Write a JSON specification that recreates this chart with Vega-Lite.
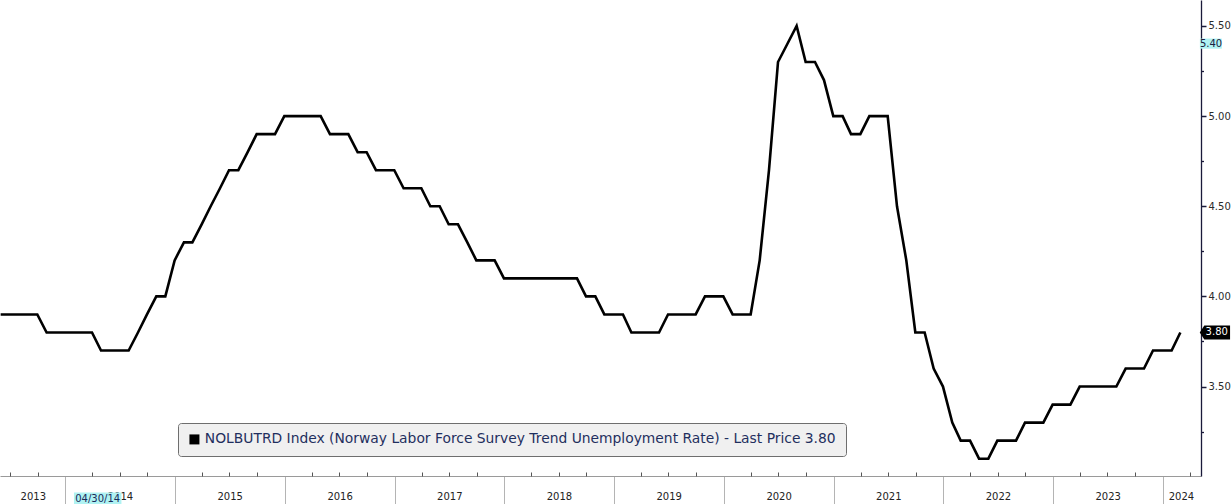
{
  "$schema": "https://vega.github.io/schema/vega-lite/v6.json",
  "width": 1201,
  "height": 476,
  "autosize": {"type": "none"},
  "padding": {"left": 0, "top": 0, "right": 30, "bottom": 28},
  "background": "#ffffff",
  "config": {
    "view": {"stroke": null},
    "font": "DejaVu Sans",
    "axis": {"labelFont": "DejaVu Sans", "grid": false}
  },
  "data": {
    "values": [
      {"date": "2013-05-31", "v": 3.9}, {"date": "2013-06-30", "v": 3.9}, {"date": "2013-07-31", "v": 3.9}, {"date": "2013-08-31", "v": 3.9},
      {"date": "2013-09-30", "v": 3.9}, {"date": "2013-10-31", "v": 3.8}, {"date": "2013-11-30", "v": 3.8}, {"date": "2013-12-31", "v": 3.8},
      {"date": "2014-01-31", "v": 3.8}, {"date": "2014-02-28", "v": 3.8}, {"date": "2014-03-31", "v": 3.8}, {"date": "2014-04-30", "v": 3.7},
      {"date": "2014-05-31", "v": 3.7}, {"date": "2014-06-30", "v": 3.7}, {"date": "2014-07-31", "v": 3.7}, {"date": "2014-08-31", "v": 3.8},
      {"date": "2014-09-30", "v": 3.9}, {"date": "2014-10-31", "v": 4.0}, {"date": "2014-11-30", "v": 4.0}, {"date": "2014-12-31", "v": 4.2},
      {"date": "2015-01-31", "v": 4.3}, {"date": "2015-02-28", "v": 4.3}, {"date": "2015-03-31", "v": 4.4}, {"date": "2015-04-30", "v": 4.5},
      {"date": "2015-05-31", "v": 4.6}, {"date": "2015-06-30", "v": 4.7}, {"date": "2015-07-31", "v": 4.7}, {"date": "2015-08-31", "v": 4.8},
      {"date": "2015-09-30", "v": 4.9}, {"date": "2015-10-31", "v": 4.9}, {"date": "2015-11-30", "v": 4.9}, {"date": "2015-12-31", "v": 5.0},
      {"date": "2016-01-31", "v": 5.0}, {"date": "2016-02-29", "v": 5.0}, {"date": "2016-03-31", "v": 5.0}, {"date": "2016-04-30", "v": 5.0},
      {"date": "2016-05-31", "v": 4.9}, {"date": "2016-06-30", "v": 4.9}, {"date": "2016-07-31", "v": 4.9}, {"date": "2016-08-31", "v": 4.8},
      {"date": "2016-09-30", "v": 4.8}, {"date": "2016-10-31", "v": 4.7}, {"date": "2016-11-30", "v": 4.7}, {"date": "2016-12-31", "v": 4.7},
      {"date": "2017-01-31", "v": 4.6}, {"date": "2017-02-28", "v": 4.6}, {"date": "2017-03-31", "v": 4.6}, {"date": "2017-04-30", "v": 4.5},
      {"date": "2017-05-31", "v": 4.5}, {"date": "2017-06-30", "v": 4.4}, {"date": "2017-07-31", "v": 4.4}, {"date": "2017-08-31", "v": 4.3},
      {"date": "2017-09-30", "v": 4.2}, {"date": "2017-10-31", "v": 4.2}, {"date": "2017-11-30", "v": 4.2}, {"date": "2017-12-31", "v": 4.1},
      {"date": "2018-01-31", "v": 4.1}, {"date": "2018-02-28", "v": 4.1}, {"date": "2018-03-31", "v": 4.1}, {"date": "2018-04-30", "v": 4.1},
      {"date": "2018-05-31", "v": 4.1}, {"date": "2018-06-30", "v": 4.1}, {"date": "2018-07-31", "v": 4.1}, {"date": "2018-08-31", "v": 4.1},
      {"date": "2018-09-30", "v": 4.0}, {"date": "2018-10-31", "v": 4.0}, {"date": "2018-11-30", "v": 3.9}, {"date": "2018-12-31", "v": 3.9},
      {"date": "2019-01-31", "v": 3.9}, {"date": "2019-02-28", "v": 3.8}, {"date": "2019-03-31", "v": 3.8}, {"date": "2019-04-30", "v": 3.8},
      {"date": "2019-05-31", "v": 3.8}, {"date": "2019-06-30", "v": 3.9}, {"date": "2019-07-31", "v": 3.9}, {"date": "2019-08-31", "v": 3.9},
      {"date": "2019-09-30", "v": 3.9}, {"date": "2019-10-31", "v": 4.0}, {"date": "2019-11-30", "v": 4.0}, {"date": "2019-12-31", "v": 4.0},
      {"date": "2020-01-31", "v": 3.9}, {"date": "2020-02-29", "v": 3.9}, {"date": "2020-03-31", "v": 3.9}, {"date": "2020-04-30", "v": 4.2},
      {"date": "2020-05-31", "v": 4.7}, {"date": "2020-06-30", "v": 5.3}, {"date": "2020-07-31", "v": 5.4}, {"date": "2020-08-31", "v": 5.5},
      {"date": "2020-09-30", "v": 5.3}, {"date": "2020-10-31", "v": 5.3}, {"date": "2020-11-30", "v": 5.2}, {"date": "2020-12-31", "v": 5.0},
      {"date": "2021-01-31", "v": 5.0}, {"date": "2021-02-28", "v": 4.9}, {"date": "2021-03-31", "v": 4.9}, {"date": "2021-04-30", "v": 5.0},
      {"date": "2021-05-31", "v": 5.0}, {"date": "2021-06-30", "v": 5.0}, {"date": "2021-07-31", "v": 4.5}, {"date": "2021-08-31", "v": 4.2},
      {"date": "2021-09-30", "v": 3.8}, {"date": "2021-10-31", "v": 3.8}, {"date": "2021-11-30", "v": 3.6}, {"date": "2021-12-31", "v": 3.5},
      {"date": "2022-01-31", "v": 3.3}, {"date": "2022-02-28", "v": 3.2}, {"date": "2022-03-31", "v": 3.2}, {"date": "2022-04-30", "v": 3.1},
      {"date": "2022-05-31", "v": 3.1}, {"date": "2022-06-30", "v": 3.2}, {"date": "2022-07-31", "v": 3.2}, {"date": "2022-08-31", "v": 3.2},
      {"date": "2022-09-30", "v": 3.3}, {"date": "2022-10-31", "v": 3.3}, {"date": "2022-11-30", "v": 3.3}, {"date": "2022-12-31", "v": 3.4},
      {"date": "2023-01-31", "v": 3.4}, {"date": "2023-02-28", "v": 3.4}, {"date": "2023-03-31", "v": 3.5}, {"date": "2023-04-30", "v": 3.5},
      {"date": "2023-05-31", "v": 3.5}, {"date": "2023-06-30", "v": 3.5}, {"date": "2023-07-31", "v": 3.5}, {"date": "2023-08-31", "v": 3.6},
      {"date": "2023-09-30", "v": 3.6}, {"date": "2023-10-31", "v": 3.6}, {"date": "2023-11-30", "v": 3.7}, {"date": "2023-12-31", "v": 3.7},
      {"date": "2024-01-31", "v": 3.7}, {"date": "2024-02-29", "v": 3.8}
    ]
  },
  "layer": [
    {
      "mark": {"type": "line", "strokeWidth": 2.6, "strokeJoin": "miter"},
      "encoding": {
        "x": {
          "field": "date", "type": "temporal",
          "scale": {
            "type": "utc", "nice": false,
            "domain": [
              {"year": 2013, "month": 5, "date": 28, "hours": 20, "utc": true},
              {"year": 2024, "month": 5, "date": 7, "hours": 17, "utc": true}
            ]
          },
          "axis": {
            "orient": "bottom", "title": null, "offset": 0, "labels": false,
            "values": [
              {"year": 2014, "month": 1, "date": 1, "utc": true}, {"year": 2015, "month": 1, "date": 1, "utc": true},
              {"year": 2016, "month": 1, "date": 1, "utc": true}, {"year": 2017, "month": 1, "date": 1, "utc": true},
              {"year": 2018, "month": 1, "date": 1, "utc": true}, {"year": 2019, "month": 1, "date": 1, "utc": true},
              {"year": 2020, "month": 1, "date": 1, "utc": true}, {"year": 2021, "month": 1, "date": 1, "utc": true},
              {"year": 2022, "month": 1, "date": 1, "utc": true}, {"year": 2023, "month": 1, "date": 1, "utc": true},
              {"year": 2024, "month": 1, "date": 1, "utc": true}
            ],
            "tickSize": 28, "tickColor": "#b4b4b4", "tickWidth": 1,
            "domainColor": "#9a9a9a", "domainWidth": 1
          }
        },
        "y": {
          "field": "v", "type": "quantitative",
          "scale": {"domain": [3.004, 5.644], "nice": false, "zero": false},
          "axis": {
            "orient": "right", "title": null, "offset": 0,
            "values": [3.5, 4, 4.5, 5, 5.5], "format": ".2f",
            "tickSize": 5, "tickWidth": 1.5, "tickColor": "#1a1a3a",
            "domainColor": "#1a1a3a", "domainWidth": 1.3,
            "labelFontSize": 10, "labelColor": "#2b2b2b", "labelPadding": 2
          }
        },
        "color": {
          "datum": "NOLBUTRD Index (Norway Labor Force Survey Trend Unemployment Rate) - Last Price 3.80",
          "type": "nominal",
          "scale": {"range": ["#000000"]},
          "legend": {
            "title": null, "orient": "none", "legendX": 178, "legendY": 423,
            "fillColor": "#f0f0f0", "strokeColor": "#6e6e6e", "cornerRadius": 3, "padding": 9.5,
            "symbolType": "square", "symbolSize": 100, "symbolFillColor": "#000000", "symbolStrokeWidth": 0,
            "labelFont": "DejaVu Sans", "labelFontSize": 13.85, "labelColor": "#1f2f5e", "labelLimit": 0, "labelOffset": 3.5,
            "encode": {"symbols": {"update": {"fill": {"value": "#000000"}, "strokeWidth": {"value": 0}, "shape": {"value": "square"}, "size": {"value": 100}}}}
          }
        }
      }
    },
    {
      "data": {"values": [{}]},
      "mark": {"type": "rect", "fill": "#b0f2f2"},
      "encoding": {
        "x": {
          "datum": {"year": 2024, "month": 5, "date": 4, "utc": true}, "type": "temporal",
          "axis": {
            "orient": "bottom", "title": null, "offset": 0, "labels": false, "domain": false,
            "values": [
              {"year": 2013, "month": 7, "date": 1, "utc": true}, {"year": 2013, "month": 10, "date": 1, "utc": true},
              {"year": 2014, "month": 4, "date": 1, "utc": true}, {"year": 2014, "month": 7, "date": 1, "utc": true}, {"year": 2014, "month": 10, "date": 1, "utc": true},
              {"year": 2015, "month": 4, "date": 1, "utc": true}, {"year": 2015, "month": 7, "date": 1, "utc": true}, {"year": 2015, "month": 10, "date": 1, "utc": true},
              {"year": 2016, "month": 4, "date": 1, "utc": true}, {"year": 2016, "month": 7, "date": 1, "utc": true}, {"year": 2016, "month": 10, "date": 1, "utc": true},
              {"year": 2017, "month": 4, "date": 1, "utc": true}, {"year": 2017, "month": 7, "date": 1, "utc": true}, {"year": 2017, "month": 10, "date": 1, "utc": true},
              {"year": 2018, "month": 4, "date": 1, "utc": true}, {"year": 2018, "month": 7, "date": 1, "utc": true}, {"year": 2018, "month": 10, "date": 1, "utc": true},
              {"year": 2019, "month": 4, "date": 1, "utc": true}, {"year": 2019, "month": 7, "date": 1, "utc": true}, {"year": 2019, "month": 10, "date": 1, "utc": true},
              {"year": 2020, "month": 4, "date": 1, "utc": true}, {"year": 2020, "month": 7, "date": 1, "utc": true}, {"year": 2020, "month": 10, "date": 1, "utc": true},
              {"year": 2021, "month": 4, "date": 1, "utc": true}, {"year": 2021, "month": 7, "date": 1, "utc": true}, {"year": 2021, "month": 10, "date": 1, "utc": true},
              {"year": 2022, "month": 4, "date": 1, "utc": true}, {"year": 2022, "month": 7, "date": 1, "utc": true}, {"year": 2022, "month": 10, "date": 1, "utc": true},
              {"year": 2023, "month": 4, "date": 1, "utc": true}, {"year": 2023, "month": 7, "date": 1, "utc": true}, {"year": 2023, "month": 10, "date": 1, "utc": true},
              {"year": 2024, "month": 4, "date": 1, "utc": true}
            ],
            "tickSize": -4, "tickColor": "#555555", "tickWidth": 1
          }
        },
        "x2": {"datum": {"year": 2024, "month": 7, "date": 16, "utc": true}},
        "y": {
          "datum": 5.43, "type": "quantitative",
          "axis": {
            "orient": "right", "title": null, "offset": 0, "labels": false, "domain": false,
            "values": [3.25, 3.75, 4.25, 4.75, 5.25], "tickSize": 2.5, "tickColor": "#1a1a3a", "tickWidth": 1.3
          }
        },
        "y2": {"datum": 5.374}
      }
    },
    {
      "data": {"values": [{}]},
      "mark": {"type": "text", "text": "5.40", "fontSize": 10, "font": "DejaVu Sans", "color": "#1a2040", "align": "center", "baseline": "middle"},
      "encoding": {
        "x": {
          "datum": {"year": 2024, "month": 6, "date": 10, "utc": true}, "type": "temporal",
          "axis": {
            "orient": "bottom", "title": null, "offset": 0, "domain": false, "ticks": false,
            "values": [
              {"year": 2013, "month": 9, "date": 15, "utc": true}, {"year": 2014, "month": 7, "date": 2, "utc": true},
              {"year": 2015, "month": 7, "date": 2, "utc": true}, {"year": 2016, "month": 7, "date": 2, "utc": true},
              {"year": 2017, "month": 7, "date": 2, "utc": true}, {"year": 2018, "month": 7, "date": 2, "utc": true},
              {"year": 2019, "month": 7, "date": 2, "utc": true}, {"year": 2020, "month": 7, "date": 2, "utc": true},
              {"year": 2021, "month": 7, "date": 2, "utc": true}, {"year": 2022, "month": 7, "date": 2, "utc": true},
              {"year": 2023, "month": 7, "date": 2, "utc": true}, {"year": 2024, "month": 3, "date": 2, "utc": true}
            ],
            "labelExpr": "utcFormat(datum.value, '%Y')",
            "labelFlush": false, "labelOverlap": false, "labelBound": false,
            "labelFontSize": 10, "labelColor": "#222222", "labelPadding": 15, "labelBaseline": "top"
          }
        },
        "y": {"datum": 5.4, "type": "quantitative", "axis": null}
      }
    },
    {
      "data": {"values": [{}]},
      "mark": {"type": "point", "shape": "M-1,0L-0.7,-0.46L1,-0.46L1,0.46L-0.7,0.46Z", "size": 918, "filled": true, "fill": "#000000", "opacity": 1, "strokeWidth": 0},
      "encoding": {
        "x": {"datum": {"year": 2024, "month": 6, "date": 23, "utc": true}, "type": "temporal", "axis": null},
        "y": {"datum": 3.8, "type": "quantitative", "axis": null}
      }
    },
    {
      "data": {"values": [{}]},
      "mark": {"type": "text", "text": "3.80", "fontSize": 10, "font": "DejaVu Sans", "color": "#ffffff", "align": "center", "baseline": "middle"},
      "encoding": {
        "x": {"datum": {"year": 2024, "month": 6, "date": 29, "utc": true}, "type": "temporal", "axis": null},
        "y": {"datum": 3.8, "type": "quantitative", "axis": null}
      }
    },
    {
      "data": {"values": [{}]},
      "mark": {"type": "rect", "fill": "#b0f2f2"},
      "encoding": {
        "x": {"datum": {"year": 2014, "month": 1, "date": 30, "utc": true}, "type": "temporal", "axis": null},
        "x2": {"datum": {"year": 2014, "month": 7, "date": 7, "utc": true}},
        "y": {"datum": 2.912, "type": "quantitative", "axis": null},
        "y2": {"datum": 2.849}
      }
    },
    {
      "data": {"values": [{}]},
      "mark": {"type": "text", "text": "04/30/14", "fontSize": 10, "font": "DejaVu Sans", "color": "#1a2a5a", "align": "center", "baseline": "middle"},
      "encoding": {
        "x": {"datum": {"year": 2014, "month": 4, "date": 19, "utc": true}, "type": "temporal", "axis": null},
        "y": {"datum": 2.879, "type": "quantitative", "axis": null}
      }
    }
  ],
  "resolve": {"axis": {"x": "independent", "y": "independent"}}
}
